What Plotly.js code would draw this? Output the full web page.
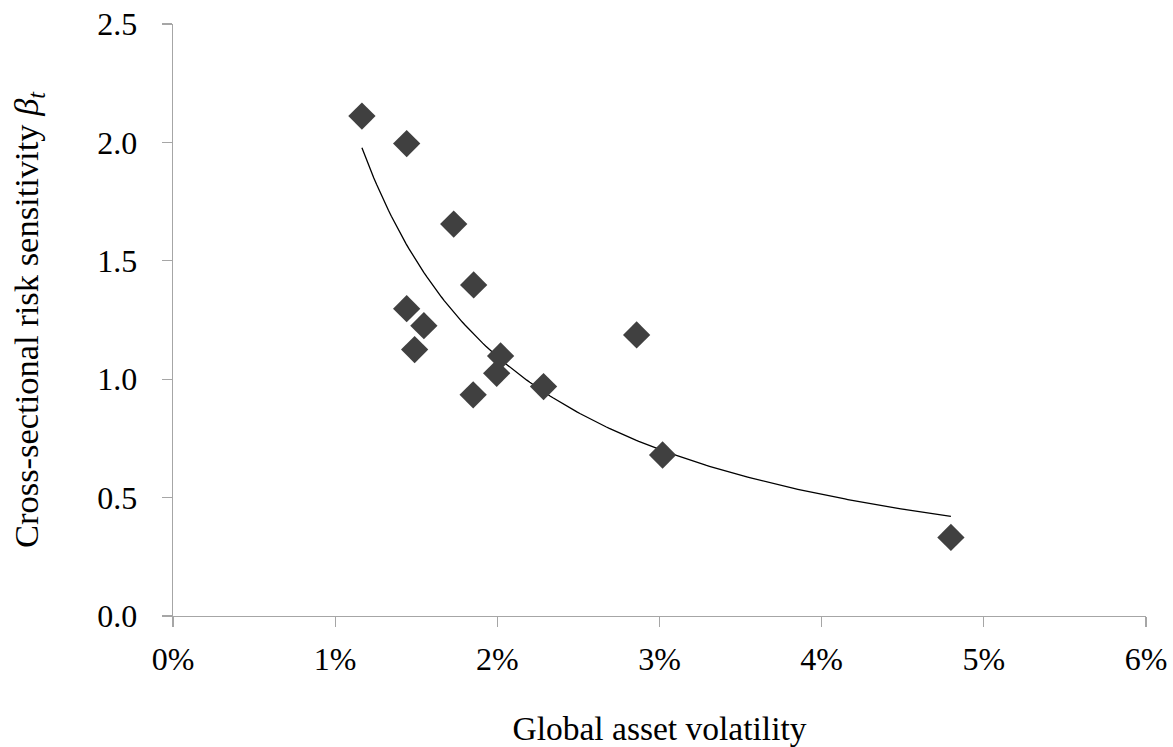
<!DOCTYPE html>
<html>
<head>
<meta charset="utf-8">
<script src="https://cdn.plot.ly/plotly-3.0.1.min.js"></script>
<style>html,body{margin:0;padding:0;background:#fff;}#chart{width:1173px;height:747px;}</style>
</head>
<body>
<div id="chart"></div>
<script>
// Global asset volatility (%)
const volatility = [1.165, 1.441, 1.731, 1.854, 1.441, 1.547, 1.490, 2.020, 1.996, 2.285, 1.851, 2.859, 3.019, 4.797];
// Cross-sectional risk sensitivity beta_t
const beta = [2.111, 1.995, 1.655, 1.398, 1.298, 1.226, 1.125, 1.098, 1.025, 0.969, 0.934, 1.187, 0.680, 0.332];

const xTickVals = [0, 1, 2, 3, 4, 5, 6];
const xTickText = ['0%', '1%', '2%', '3%', '4%', '5%', '6%'];
const yTickVals = [0, 0.5, 1.0, 1.5, 2.0, 2.5];
const yTickText = ['0.0', '0.5', '1.0', '1.5', '2.0', '2.5'];

// Power trendline (least squares in log-log space), as in the original chart
const lx = volatility.map(Math.log), ly = beta.map(Math.log);
const mx = lx.reduce((s, v) => s + v, 0) / lx.length;
const my = ly.reduce((s, v) => s + v, 0) / ly.length;
let sxy = 0, sxx = 0;
for (let i = 0; i < lx.length; i++) { sxy += (lx[i] - mx) * (ly[i] - my); sxx += (lx[i] - mx) ** 2; }
const b = sxy / sxx, a = Math.exp(my - b * mx);
const xmin = Math.min(...volatility), xmax = Math.max(...volatility);
const trendX = [], trendY = [];
for (let i = 0; i <= 200; i++) {
  const x = xmin + (xmax - xmin) * i / 200;
  trendX.push(x); trendY.push(a * Math.pow(x, b));
}

const FONT = 'Liberation Serif, Times New Roman, serif';
const axisColor = '#a6a6a6';

const data = [
  { x: trendX, y: trendY, type: 'scatter', mode: 'lines',
    line: { color: '#000000', width: 1.3 }, hoverinfo: 'skip', showlegend: false },
  { x: volatility, y: beta, type: 'scatter', mode: 'markers',
    marker: { symbol: 'diamond', size: 21, color: '#404040', line: { width: 0 } }, showlegend: false }
];

const layout = {
  width: 1173, height: 747,
  paper_bgcolor: '#ffffff', plot_bgcolor: '#ffffff',
  margin: { l: 173, r: 27, t: 23.5, b: 130.5 },
  font: { family: FONT, size: 32, color: '#000000' },
  showlegend: false,
  xaxis: {
    range: [0, 6], tickvals: xTickVals, ticktext: xTickText,
    showgrid: false, zeroline: false, showline: true, linecolor: axisColor, linewidth: 1.3,
    ticks: 'outside', ticklen: 10, tickwidth: 1.3, tickcolor: axisColor,
    tickfont: { family: FONT, size: 32, color: '#000' }, ticklabelstandoff: 4,
    title: { text: 'Global asset volatility', font: { family: FONT, size: 33.5, color: '#000' }, standoff: 42 },
    automargin: false
  },
  yaxis: {
    range: [0, 2.5], tickvals: yTickVals, ticktext: yTickText,
    showgrid: false, zeroline: false, showline: true, linecolor: axisColor, linewidth: 1.3,
    ticks: 'outside', ticklen: 10, tickwidth: 1.3, tickcolor: axisColor,
    tickfont: { family: FONT, size: 32, color: '#000' }, ticklabelstandoff: 18,
    title: { text: 'Cross-sectional risk sensitivity <i>β<sub>t</sub></i>', font: { family: FONT, size: 34.5, color: '#000' }, standoff: 48 },
    automargin: false
  }
};

Plotly.newPlot('chart', data, layout, { staticPlot: true, displayModeBar: false });
</script>
</body>
</html>
